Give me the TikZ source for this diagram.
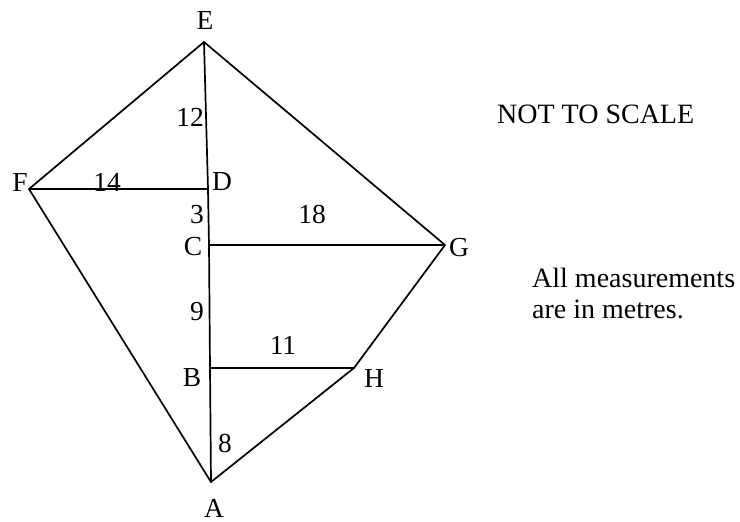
\documentclass[tikz,border=0pt]{standalone}
\usepackage{fontspec}
\setmainfont{Liberation Serif}
\begin{document}
\begin{tikzpicture}[x=1pt,y=-1pt,
  edge/.style={line width=1.7pt,line cap=round,line join=round},
  lbl/.style={inner sep=0pt,font=\fontsize{27.5}{31}\selectfont},
  txt/.style={inner sep=0pt,anchor=base west,font=\fontsize{28}{31}\selectfont}]
\useasboundingbox (0,0) rectangle (740,522);
% vertices
\coordinate (E) at (204,42);
\coordinate (F) at (29,189);
\coordinate (D) at (208,189);
\coordinate (C) at (209,245);
\coordinate (G) at (445,245);
\coordinate (B) at (210,368);
\coordinate (H) at (354,368);
\coordinate (A) at (211,482);
% edges
\draw[edge] (E) -- (D) -- (C) -- (B) -- (A);
\draw[edge] (E) -- (F) -- (A);
\draw[edge] (E) -- (G) -- (H) -- (A);
\draw[edge] (F) -- (D);
\draw[edge] (C) -- (G);
\draw[edge] (B) -- (H);
% vertex labels
\node[lbl] (lE) at (205,20) {E};
\node[lbl] (lF) at (20,182) {F};
\node[lbl] (lD) at (222,182) {D};
\node[lbl] (lC) at (193,247) {C};
\node[lbl] (lG) at (459,248) {G};
\node[lbl] (lB) at (192,378) {B};
\node[lbl] (lH) at (374,378) {H};
\node[lbl] (lA) at (214,508) {A};
% measurements
\node[lbl] (m12) at (190,117) {12};
\node[lbl] (m14) at (107,182) {14};
\node[lbl] (m3) at (197,215) {3};
\node[lbl] (m18) at (312,214) {18};
\node[lbl] (m9) at (197,312) {9};
\node[lbl] (m11) at (283,345) {11};
\node[lbl] (m8) at (225,443) {8};
% notes
\node[txt] (nts) at (497,123) {NOT TO SCALE};
\node[txt] (all1) at (532,287) {All measurements};
\node[txt] (all2) at (532,318) {are in metres.};
\end{tikzpicture}
\end{document}
